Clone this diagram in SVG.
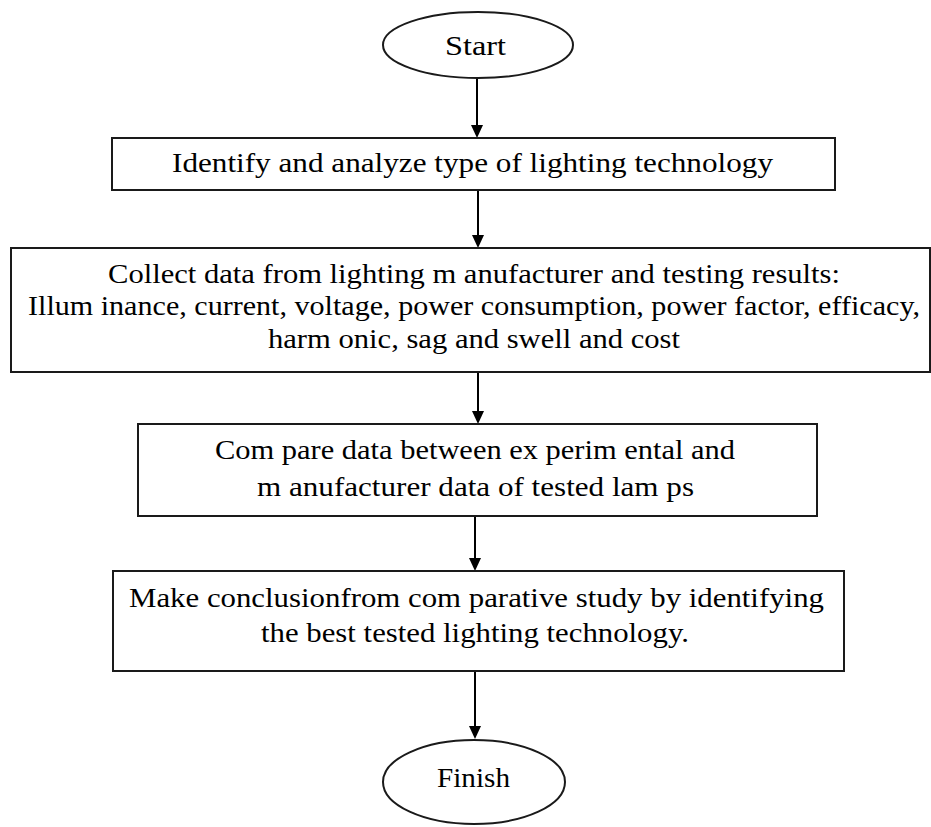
<svg xmlns="http://www.w3.org/2000/svg" width="931" height="827" viewBox="0 0 931 827">
<style>
.shape{fill:#fff;stroke:#1a1a1a;stroke-width:2}
.t{font-family:"Liberation Serif","Times New Roman",serif;font-size:28px;fill:#000}
.c{stroke:#000;stroke-width:2;fill:none}
</style>
<defs>
<marker id="ah" viewBox="0 0 10 12" refX="5" refY="12" markerWidth="10" markerHeight="12" markerUnits="userSpaceOnUse" orient="auto-start-reverse">
<path d="M0,0 L10,0 L5,12 Z" fill="#000" transform="rotate(0)"/>
</marker>
</defs>
<rect width="931" height="827" fill="#fff"/>
<g id="connectors">
<line class="c" x1="477" y1="78" x2="477" y2="126"/>
<path d="M471,125 L483,125 L477,138 Z" fill="#000"/>
<line class="c" x1="478" y1="190" x2="478" y2="236"/>
<path d="M472,235 L484,235 L478,248 Z" fill="#000"/>
<line class="c" x1="478" y1="372" x2="478" y2="412"/>
<path d="M472,411 L484,411 L478,424 Z" fill="#000"/>
<line class="c" x1="475" y1="516" x2="475" y2="559"/>
<path d="M469,558 L481,558 L475,571 Z" fill="#000"/>
<line class="c" x1="475" y1="671" x2="475" y2="727"/>
<path d="M469,726 L481,726 L475,739 Z" fill="#000"/>
</g>
<g id="start">
<ellipse class="shape" cx="478" cy="45" rx="95" ry="33"/>
<text class="t" x="475.5" y="55" text-anchor="middle" textLength="61" lengthAdjust="spacingAndGlyphs">Start</text>
</g>
<g id="identify">
<rect class="shape" x="112" y="138" width="723" height="52"/>
<text class="t" x="172" y="172" textLength="601" lengthAdjust="spacingAndGlyphs">Identify and analyze type of lighting technology</text>
</g>
<g id="collect">
<rect class="shape" x="11" y="248" width="919" height="124"/>
<text class="t" x="108" y="283" textLength="732" lengthAdjust="spacingAndGlyphs">Collect data from  lighting m anufacturer and testing results:</text>
<text class="t" x="28" y="315" textLength="892" lengthAdjust="spacingAndGlyphs">Illum inance, current, voltage, power consumption, power factor, efficacy,</text>
<text class="t" x="268" y="348" textLength="412" lengthAdjust="spacingAndGlyphs">harm onic, sag and swell and cost</text>
</g>
<g id="compare">
<rect class="shape" x="138" y="424" width="679" height="92"/>
<text class="t" x="215" y="459" textLength="520" lengthAdjust="spacingAndGlyphs">Com pare data between ex perim ental and</text>
<text class="t" x="257" y="496" textLength="437" lengthAdjust="spacingAndGlyphs">m anufacturer data of tested lam ps</text>
</g>
<g id="conclusion">
<rect class="shape" x="113" y="571" width="731" height="100"/>
<text class="t" x="129" y="607" textLength="695" lengthAdjust="spacingAndGlyphs">Make conclusionfrom com parative study by identifying</text>
<text class="t" x="261" y="642" textLength="428" lengthAdjust="spacingAndGlyphs">the best tested lighting technology.</text>
</g>
<g id="finish">
<ellipse class="shape" cx="474" cy="782" rx="91" ry="42"/>
<text class="t" x="473.5" y="787" text-anchor="middle" textLength="73" lengthAdjust="spacingAndGlyphs">Finish</text>
</g>
</svg>
